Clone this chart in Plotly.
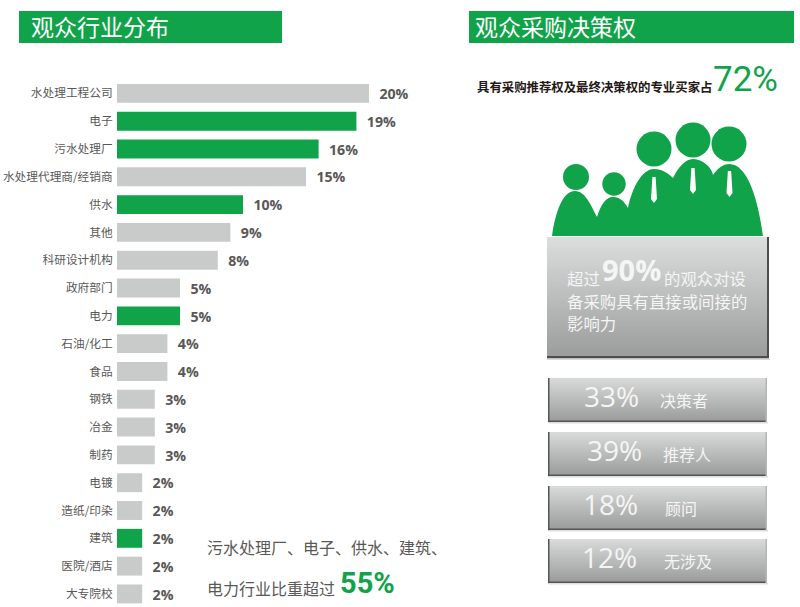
import plotly.graph_objects as go

W = 800
H = 607

# Data
industries = [
    "水处理工程公司", "电子", "污水处理厂", "水处理代理商/经销商", "供水", "其他",
    "科研设计机构", "政府部门", "电力", "石油/化工", "食品", "钢铁", "冶金", "制药",
    "电镀", "造纸/印染", "建筑", "医院/酒店", "大专院校",
]
shares = [20, 19, 16, 15, 10, 9, 8, 5, 5, 4, 4, 3, 3, 3, 2, 2, 2, 2, 2]
highlighted = ["电子", "污水处理厂", "供水", "电力", "建筑"]
roles = ["决策者", "推荐人", "顾问", "无涉及"]
role_shares = [33, 39, 18, 12]
buyer_share = 72
influence_share = 90
key_industry_share = 55

GREEN = "#10a349"
GREY = "#c9caca"
TEXT = "#595757"
CJK = "Noto Sans CJK SC"
LATIN = "Open Sans"


def px(x):
    return x / W


def py(y):
    return 1 - y / H


def rect(x0, y0, x1, y1, color):
    return dict(type="rect", xref="paper", yref="paper", layer="below",
                x0=px(x0), x1=px(x1), y0=py(y0), y1=py(y1),
                fillcolor=color, line_width=0)


def circle(cx, cy, r, color):
    return dict(type="circle", xref="paper", yref="paper",
                x0=px(cx - r), x1=px(cx + r), y0=py(cy - r), y1=py(cy + r),
                fillcolor=color, line_width=0)


def path_shape(points, color):
    # points: first is a start point, then groups of 3 for cubic curves
    p = [f"{px(x):.5f},{py(y):.5f}" for x, y in points]
    d = "M" + p[0]
    for i in range(1, len(p), 3):
        d += f" C{p[i]} {p[i + 1]} {p[i + 2]}"
    return dict(type="path", xref="paper", yref="paper", path=d + " Z",
                fillcolor=color, line_width=0)


def mix(c0, c1, t):
    return "rgb({},{},{})".format(*[round(a + (b - a) * t) for a, b in zip(c0, c1)])


def gradient_box(x0, y0, x1, y1, top, bottom, strips=60):
    out = []
    step = (y1 - y0) / strips
    for i in range(strips):
        out.append(rect(x0, y0 + i * step, x1, y0 + (i + 1) * step + 0.5,
                        mix(top, bottom, i / (strips - 1))))
    return out


def label(x, y, text, size, color=TEXT, family=CJK, anchor="left", bold=False):
    if bold:
        text = f"<b>{text}</b>"
    # annotations sit about 2px in from their anchor
    if anchor == "left":
        x -= 2
    return dict(xref="paper", yref="paper", x=px(x), y=py(y), text=text,
                showarrow=False, xanchor=anchor, yanchor="middle", align="left",
                font=dict(size=size, color=color, family=family))


colors = [GREEN if name in highlighted else GREY for name in industries]

fig = go.Figure(
    go.Bar(
        x=shares,
        y=industries,
        orientation="h",
        width=0.68,
        marker=dict(color=colors, line_width=0),
        text=[f"\u00a0\u00a0{v}%" for v in shares],
        textposition="outside",
        cliponaxis=False,
        textfont=dict(size=15, color=TEXT, family=LATIN, weight="bold"),
        hoverinfo="skip",
    )
)

shapes = [rect(19, 11, 282, 43, GREEN), rect(469, 11, 794, 43, GREEN)]

# People icon
shapes.append(path_shape([
    (552, 236),
    (556, 208), (564, 191), (575, 191),
    (585, 191), (591, 205), (597, 217),
    (601, 204), (606, 197), (613, 197),
    (621, 197), (625, 203), (628, 208),
    (632, 188), (642, 169), (654, 169),
    (662, 169), (668, 173), (673, 178),
    (678, 168), (685, 159), (693, 159),
    (703, 159), (712, 168), (713, 175),
    (718, 168), (723, 164), (729, 164),
    (748, 164), (758, 200), (763, 236),
], GREEN))
for cx, cy, r in [(576, 177, 13), (614, 184, 11.7), (654, 149, 17.5),
                  (693, 140, 17.5), (729, 144, 17.5)]:
    shapes.append(circle(cx, cy, r, GREEN))
for cx, top in [(654, 177), (693, 168), (729.5, 171)]:
    d = (f"M{px(cx - 1.6):.5f},{py(top):.5f} L{px(cx + 1.6):.5f},{py(top):.5f} "
         f"L{px(cx + 3):.5f},{py(top + 22):.5f} L{px(cx):.5f},{py(top + 26):.5f} "
         f"L{px(cx - 3):.5f},{py(top + 22):.5f} Z")
    shapes.append(dict(type="path", xref="paper", yref="paper", path=d,
                       fillcolor="white", line_width=0))

# Large grey panel
shapes += gradient_box(547, 237, 768, 357, (220, 221, 221), (155, 156, 156))
shapes.append(rect(547, 356, 769, 358.5, "#4d4d4d"))
shapes.append(rect(767, 237, 769, 358, "#4d4d4d"))
shapes.append(rect(547, 358.5, 770, 360, "#d9d9d9"))

# Small grey panels
role_tops = [378, 432, 486, 539]
role_height = 44
role_number_x = [611, 614, 610, 609]
role_text_x = [684, 687, 681, 688]
annotations = []
for top, name, value, nx, tx in zip(role_tops, roles, role_shares, role_number_x, role_text_x):
    shapes += gradient_box(548, top, 767, top + role_height, (216, 217, 217), (154, 155, 155), 22)
    shapes.append(rect(548, top, 549.5, top + role_height, "#555555"))
    shapes.append(rect(548, top + role_height - 1.5, 767, top + role_height, "#555555"))
    shapes.append(rect(765.5, top, 767, top + role_height, "#b5b5b5"))
    shapes.append(rect(549, top + role_height, 768, top + role_height + 1.5, "#dedede"))
    annotations.append(label(nx, top + 18, f"{value}%", 28, "#f5f5f5", LATIN, "center"))
    annotations.append(label(tx, top + 22, name, 16, "#f5f5f5", CJK, "center"))

annotations += [
    label(31, 26, "观众行业分布", 23, "white"),
    label(475, 26, "观众采购决策权", 23, "white"),
    label(477, 87, "具有采购推荐权及最终决策权的专业买家占", 12.4, "#231815", bold=True),
    label(713, 80, f"{buyer_share}%", 35, GREEN, "Roboto"),
    label(567, 278, "超过", 16.4, "#f5f5f5"),
    label(602, 270, f"<b>{influence_share}%</b>", 29, "#f5f5f5", LATIN),
    label(664, 278, "的观众对设", 16.4, "#f5f5f5"),
    label(567, 301, "备采购具有直接或间接的", 16.4, "#f5f5f5"),
    label(567, 323, "影响力", 16.4, "#f5f5f5"),
    label(207, 547, "污水处理厂、电子、供水、建筑、", 16, TEXT),
    label(207, 588, "电力行业比重超过", 16, TEXT),
    label(340, 583, f"<b>{key_industry_share}%</b>", 29, GREEN, "Roboto"),
]

fig.update_layout(
    width=W,
    height=H,
    margin=dict(l=0, r=0, t=0, b=0),
    paper_bgcolor="white",
    plot_bgcolor="rgba(0,0,0,0)",
    showlegend=False,
    shapes=shapes,
    annotations=annotations,
    xaxis=dict(domain=[px(117), px(432)], range=[0, 25], visible=False),
    yaxis=dict(
        domain=[0, py(60)],
        range=[18.47, -1.2],
        type="category",
        showgrid=False,
        zeroline=False,
        showline=False,
        ticks="outside",
        ticklen=1,
        tickcolor="rgba(0,0,0,0)",
        tickfont=dict(size=11.7, color=TEXT, family=CJK),
    ),
)

fig.write_html(
    "out.html",
    config={"displayModeBar": False},
    post_script="document.body.style.margin='0';",
)
